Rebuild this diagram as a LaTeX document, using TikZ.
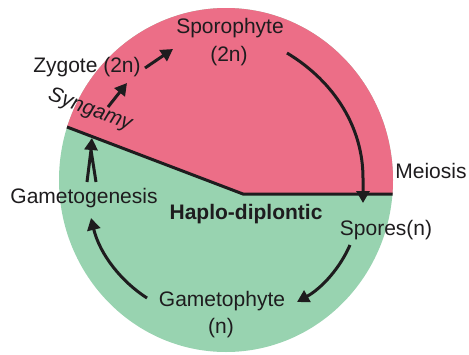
\documentclass[tikz,border=0pt]{standalone}
\usepackage{fontspec}
\setmainfont{Liberation Sans}
\usetikzlibrary{arrows.meta}
\definecolor{pinkc}{RGB}{236,110,135}
\definecolor{greenc}{RGB}{152,211,176}
\definecolor{ink}{RGB}{30,28,30}
\tikzset{
  lbl/.style={font=\fontsize{21}{24}\selectfont, text=ink, inner sep=0pt, anchor=base},
  arr/.style={draw=ink, line width=3pt, -{Triangle[length=12pt,width=13pt]}},
  divider/.style={draw=ink, line width=3pt}
}
\begin{document}
\begin{tikzpicture}[x=1pt,y=-1pt]
\useasboundingbox (0,0) rectangle (469,354);
% disc
\fill[greenc] (226,180) ellipse [x radius=167pt, y radius=172pt];
\begin{scope}
  \clip (0,0) -- (469,0) -- (469,194) -- (243,194) -- (0,101.5) -- cycle;
  \fill[pinkc] (226,180) ellipse [x radius=167pt, y radius=172pt];
\end{scope}
\coordinate (dl) at (67,127);
\coordinate (dm) at (243,194);
\coordinate (dr) at (392.5,194);
\draw[divider] (dl) -- (dm) -- (dr);
% labels
\node[lbl] (spo) at (230,33) {Sporophyte};
\node[lbl] (spo2) at (229,61) {(2n)};
\node[lbl] (zyg) at (87,72) {Zygote (2n)};
\node[lbl, font=\fontsize{21}{24}\selectfont\itshape, anchor=center, rotate=-20] (syn) at (90,110) {Syngamy};
\node[lbl] (gen) at (84,203) {Gametogenesis};
\node[lbl, font=\fontsize{21}{24}\selectfont\bfseries] (hap) at (246,219) {Haplo-diplontic};
\node[lbl] (mei) at (431,178) {Meiosis};
\node[lbl] (spr) at (386,235) {Spores(n)};
\node[lbl] (gph) at (222,306) {Gametophyte};
\node[lbl] (gph2) at (221,333) {(n)};
% arrow end points
\coordinate (a1s) at (108,107);
\coordinate (a1e) at (127,83);
\coordinate (a2s) at (145,68);
\coordinate (a2e) at (173,49);
\coordinate (a3s) at (287,53);
\coordinate (a3m) at (363,178);
\coordinate (a3e) at (363,203);
\coordinate (a4s) at (350,245);
\coordinate (a4e) at (297,302);
\coordinate (a5s) at (147,298);
\coordinate (a5e) at (91,218);
\coordinate (a6l) at (87,182);
\coordinate (a6r) at (96,182);
\coordinate (a6m) at (91,150);
\coordinate (a6e) at (92,138);
% arrows
\draw[arr] (a1s) -- (a1e);
\draw[arr] (a2s) -- (a2e);
\draw[arr] (a3s) .. controls (335,82) and (363,128) .. (a3m) -- (a3e);
\draw[arr] (a4s) .. controls (340,268) and (322,288) .. (a4e);
\draw[arr] (a5s) .. controls (122,282) and (100,255) .. (a5e);
\draw[draw=ink, line width=3pt, line join=miter] (a6l) -- (a6m) -- (a6r);
\draw[arr] (a6m) -- (a6e);
\end{tikzpicture}
\end{document}
